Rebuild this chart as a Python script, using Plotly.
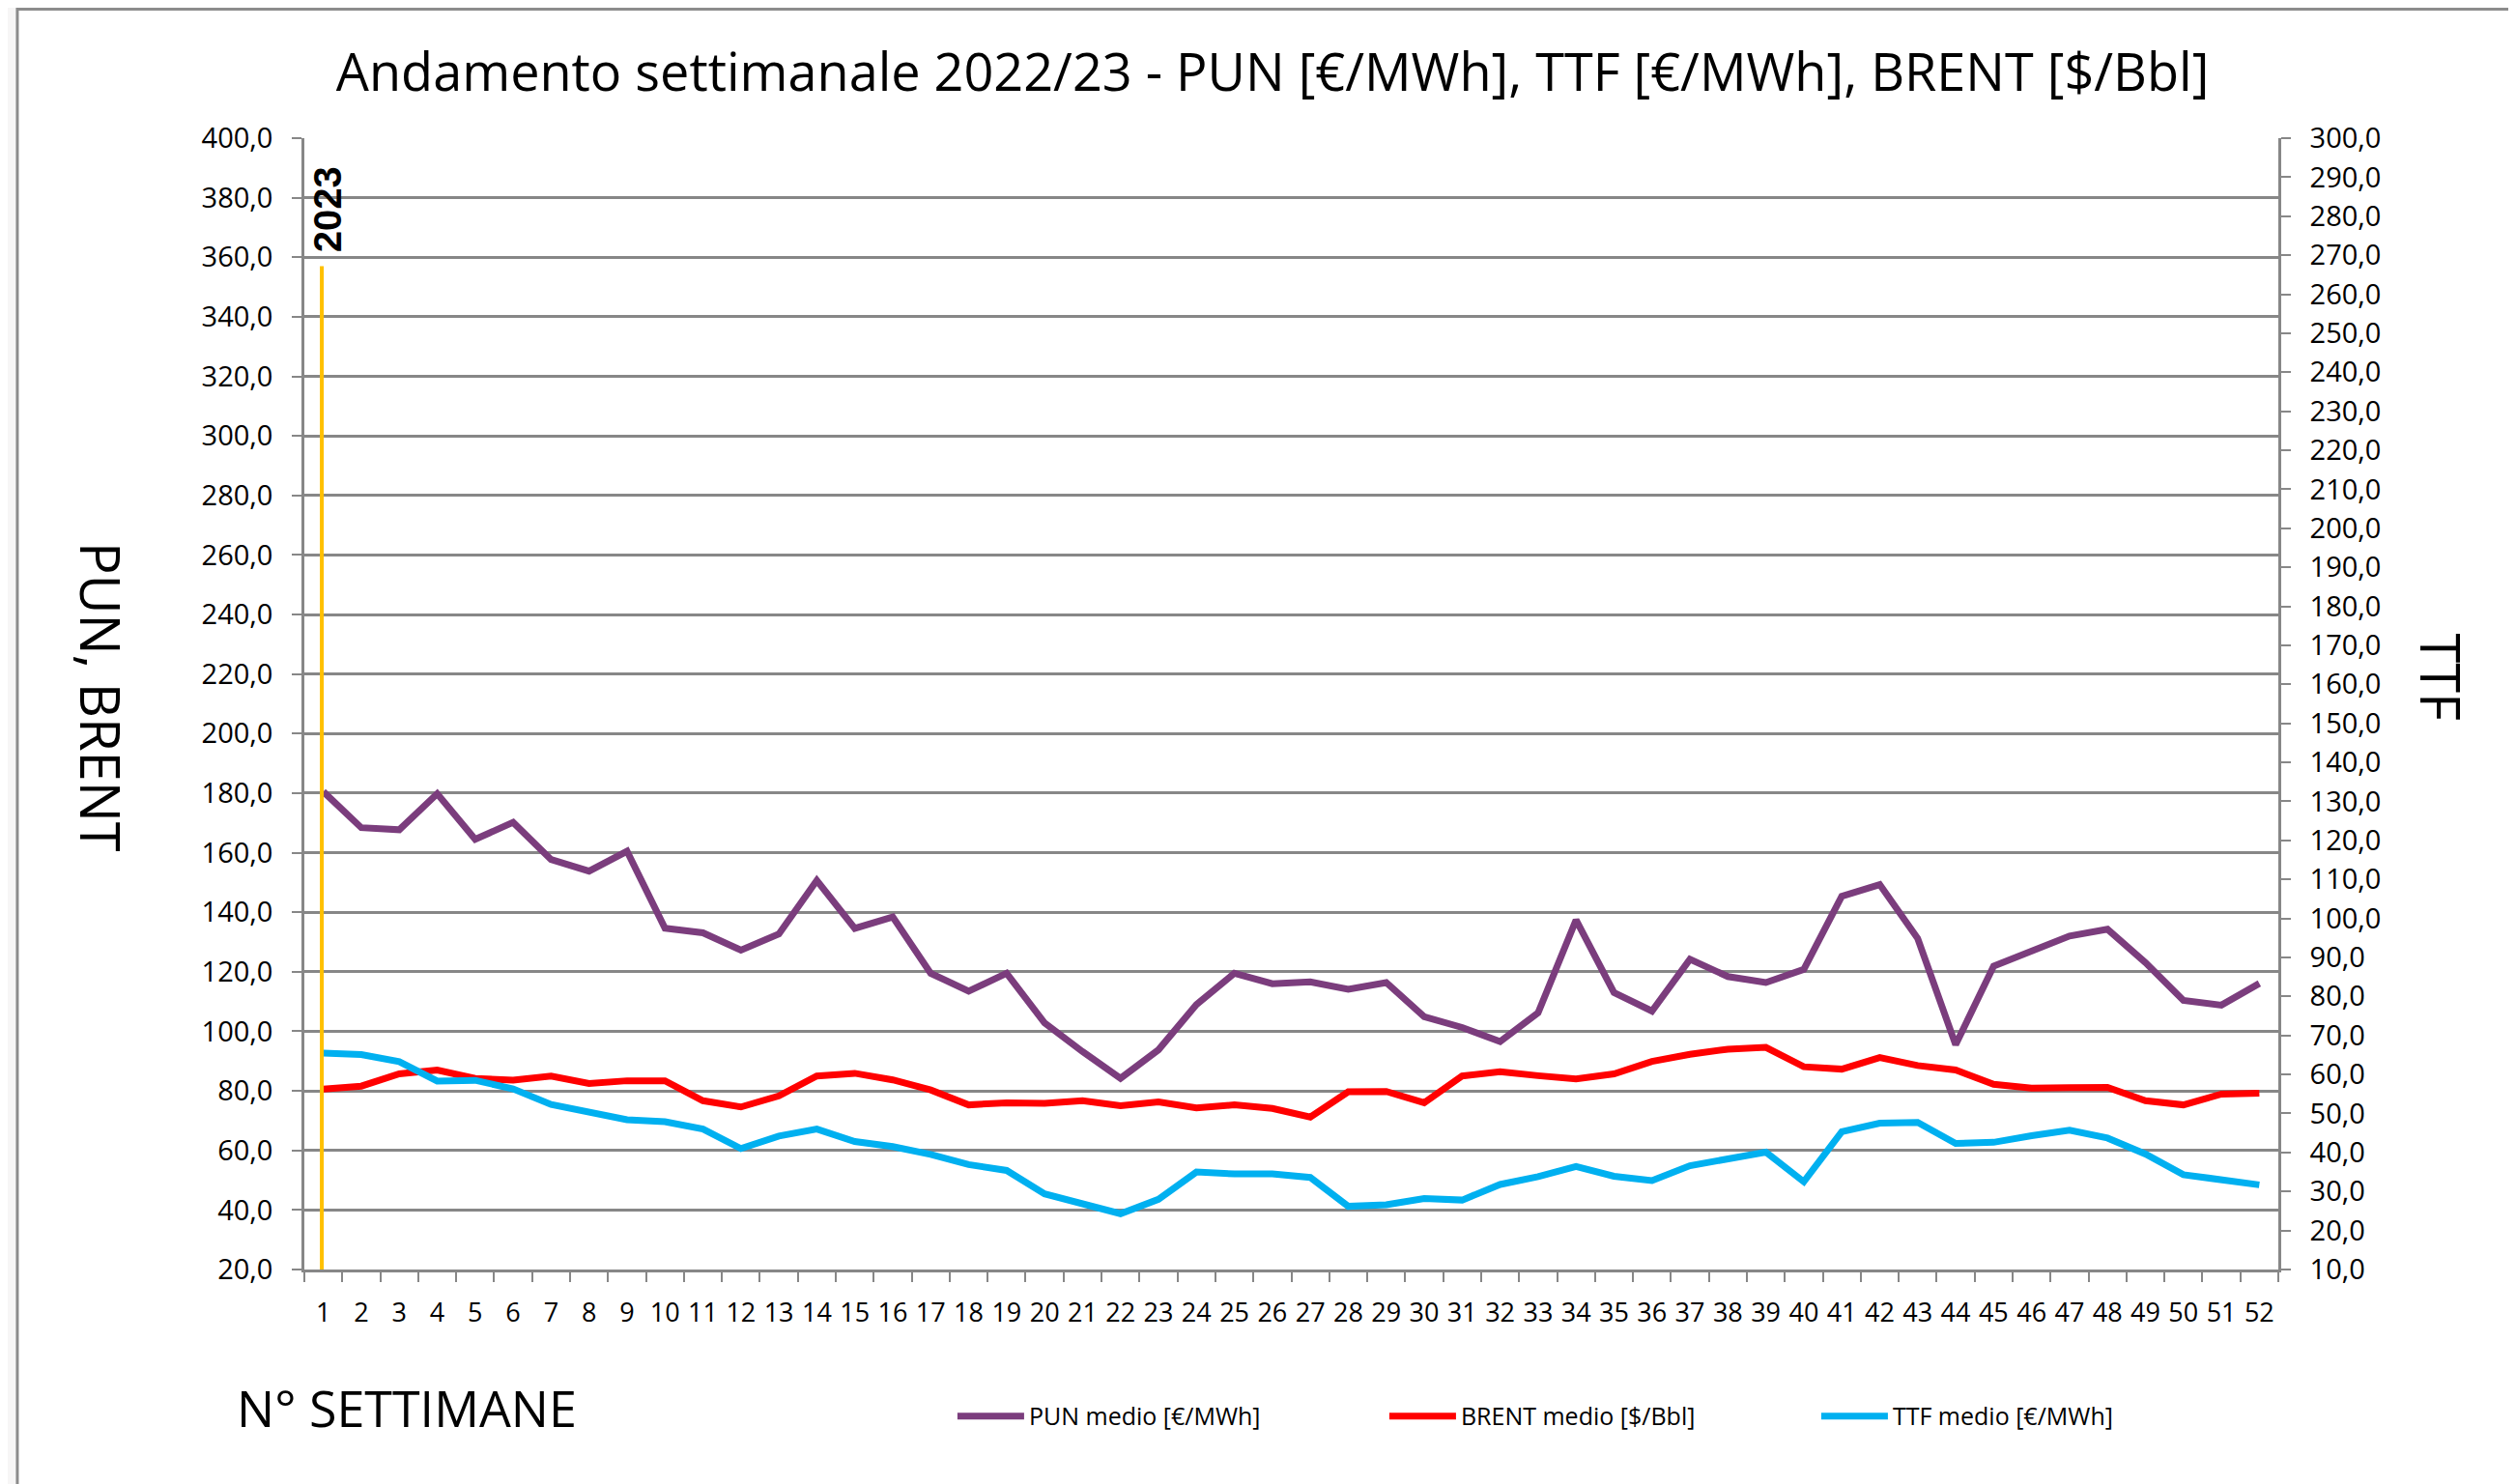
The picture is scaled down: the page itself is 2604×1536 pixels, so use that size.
import plotly.graph_objects as go

weeks = list(range(1, 53))
pun = [180.5, 168.4, 167.7, 179.8, 164.5, 170.2, 157.7, 153.8, 160.5, 134.6,
       133.1, 127.3, 132.7, 150.7, 134.6, 138.4, 119.5, 113.5, 119.5, 102.8,
       93.2, 84.2, 93.8, 109.0, 119.5, 116.0, 116.6, 114.1, 116.4, 104.9,
       101.3, 96.6, 106.2, 137.4, 113.0, 106.8, 124.2, 118.4, 116.4, 120.8,
       145.4, 149.3, 131.2, 95.5, 121.9, 127.0, 132.0, 134.3, 123.1, 110.4,
       108.8, 116.1]
brent = [80.6, 81.6, 85.7, 87.0, 84.2, 83.6, 85.0, 82.5, 83.4, 83.4,
         76.7, 74.6, 78.3, 85.0, 85.9, 83.7, 80.3, 75.3, 76.0, 75.8,
         76.7, 75.0, 76.3, 74.3, 75.3, 74.1, 71.2, 79.7, 79.8, 76.0,
         85.0, 86.4, 85.1, 84.0, 85.7, 89.9, 92.3, 94.0, 94.6, 88.1,
         87.3, 91.2, 88.5, 87.0, 82.2, 80.9, 81.1, 81.2, 76.7, 75.3,
         78.9, 79.2]
ttf = [65.5, 65.1, 63.3, 58.3, 58.5, 56.3, 52.3, 50.4, 48.4, 47.9,
       46.0, 41.0, 44.2, 46.0, 42.8, 41.5, 39.5, 36.9, 35.4, 29.4,
       26.8, 24.3, 28.0, 35.0, 34.5, 34.5, 33.6, 26.2, 26.6, 28.2,
       27.8, 31.8, 33.8, 36.4, 33.9, 32.8, 36.6, 38.4, 40.1, 32.5,
       45.3, 47.5, 47.7, 42.3, 42.6, 44.3, 45.7, 43.7, 39.6, 34.3,
       32.8, 31.7]

series_names = ["PUN medio [€/MWh]", "BRENT medio [$/Bbl]", "TTF medio [€/MWh]"]
series_colors = ["#7B3D7D", "#FF0000", "#00B0F0"]

year_marker_week = 1
year_marker_label = "2023"
year_marker_top = 357
year_label_base = 361

left_range = [20, 400]
right_range = [10, 300]

title_text = "Andamento settimanale 2022/23 - PUN [€/MWh], TTF [€/MWh], BRENT [$/Bbl]"
FONT = "Open Sans"
GRID = "#878787"

cats = [str(w) for w in weeks]
marker_idx = cats.index(str(year_marker_week))

fig = go.Figure()
fig.add_trace(go.Scatter(x=cats, y=pun, name=series_names[0], mode="lines",
                         line=dict(color=series_colors[0], width=7), yaxis="y"))
fig.add_trace(go.Scatter(x=cats, y=brent, name=series_names[1], mode="lines",
                         line=dict(color=series_colors[1], width=7), yaxis="y"))
fig.add_trace(go.Scatter(x=cats, y=ttf, name=series_names[2], mode="lines",
                         line=dict(color=series_colors[2], width=7), yaxis="y2"))

# frame of the chart area
fig.add_shape(type="rect", xref="paper", yref="paper",
              x0=-0.1454, x1=1.25, y0=-0.35, y1=1.114,
              fillcolor="white", line=dict(color="#8c8c8c", width=3), layer="below")

# 2023 marker line
fig.add_shape(type="line", xref="x", yref="y",
              x0=marker_idx - 0.04, x1=marker_idx - 0.04,
              y0=left_range[0] - 1.2, y1=year_marker_top,
              line=dict(color="#FFC000", width=4))
fig.add_annotation(x=marker_idx, y=year_label_base, xref="x", yref="y",
                   text="<b>" + year_marker_label + "</b>", textangle=-90,
                   showarrow=False, xanchor="center", yanchor="bottom", xshift=4,
                   font=dict(family="Liberation Sans", size=40, color="black"))

fig.add_annotation(x=-0.1028, y=0.5055, xref="paper", yref="paper",
                   text="PUN, BRENT", textangle=90, showarrow=False,
                   xanchor="center", yanchor="middle",
                   font=dict(family=FONT, size=56, color="black"))
fig.add_annotation(x=1.0825, y=0.5235, xref="paper", yref="paper",
                   text="TTF", textangle=90, showarrow=False,
                   xanchor="center", yanchor="middle",
                   font=dict(family=FONT, size=56, color="black"))
fig.add_annotation(x=0.0519, y=-0.1213, xref="paper", yref="paper",
                   text="N° SETTIMANE", showarrow=False,
                   xanchor="center", yanchor="middle",
                   font=dict(family=FONT, size=52, color="black"))

fig.update_layout(
    width=2604, height=1536,
    margin=dict(l=307, r=254, t=135, b=230, pad=0, autoexpand=False),
    paper_bgcolor="#f7f6f6", plot_bgcolor="white",
    separators=",.",
    font=dict(family=FONT, color="black"),
    title=dict(text=title_text, x=0.4905, xref="paper", xanchor="center",
               y=1 - 67 / 1536, yanchor="middle",
               font=dict(family=FONT, size=54, color="black")),
    showlegend=True,
    legend=dict(orientation="h", x=0.3284, xanchor="left", y=-0.1298, yanchor="middle",
                font=dict(family=FONT, size=25, color="black"),
                entrywidth=363, entrywidthmode="pixels", itemwidth=69,
                bgcolor="rgba(0,0,0,0)", traceorder="normal"),
    xaxis=dict(type="category", tickson="boundaries", ticks="outside", ticklen=10,
               range=[-0.5, len(cats) - 0.5], tickangle=0,
               tickwidth=2, tickcolor=GRID, showgrid=False, showline=True,
               linecolor=GRID, linewidth=3, zeroline=False,
               tickfont=dict(family=FONT, size=27, color="black"),
               ticklabelstandoff=19),
    yaxis=dict(range=left_range, dtick=20, tick0=20, tickformat=".1f",
               ticks="outside", ticklen=10, tickwidth=2, tickcolor=GRID,
               showgrid=True, gridcolor=GRID, gridwidth=2.5,
               showline=True, linecolor=GRID, linewidth=2.5, zeroline=False,
               tickfont=dict(family=FONT, size=29, color="black"),
               ticklabelstandoff=14),
    yaxis2=dict(range=right_range, dtick=10, tick0=10, tickformat=".1f",
                overlaying="y", side="right", ticks="outside", ticklen=10,
                tickwidth=2, tickcolor=GRID, showgrid=False,
                showline=True, linecolor=GRID, linewidth=2.5, zeroline=False,
                tickfont=dict(family=FONT, size=29, color="black"),
                ticklabelstandoff=14),
)

fig.write_html("out.html")
